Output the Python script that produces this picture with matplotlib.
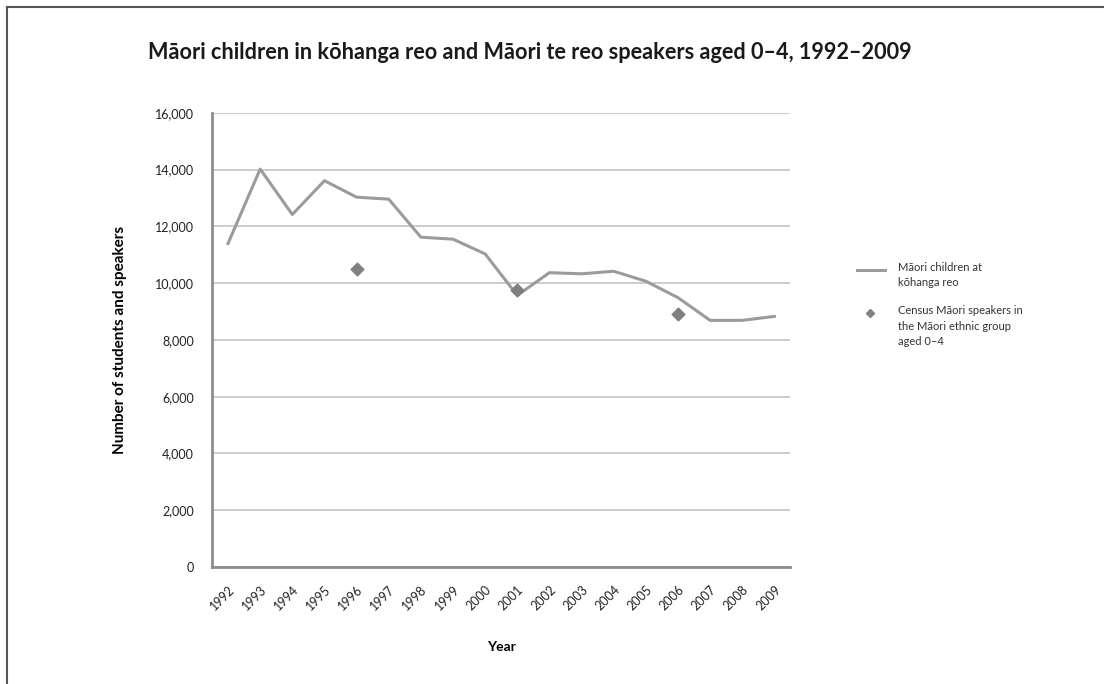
import matplotlib.pyplot as plt
from matplotlib.lines import Line2D

plt.rcParams['font.family'] = ['Lato', 'DejaVu Sans']

years = ['1992', '1993', '1994', '1995', '1996', '1997', '1998', '1999', '2000',
         '2001', '2002', '2003', '2004', '2005', '2006', '2007', '2008', '2009']
kohanga = [11400, 14020, 12420, 13610, 13030, 12960, 11620, 11550, 11030,
           9570, 10370, 10330, 10420, 10070, 9490, 8690, 8690, 8830]
census_years = ['1996', '2001', '2006']
census = [10500, 9770, 8900]
y_ticks = [0, 2000, 4000, 6000, 8000, 10000, 12000, 14000, 16000]
labels = ['Māori children at\nkōhanga reo',
          'Census Māori speakers in\nthe Māori ethnic group\naged 0–4']

fig = plt.figure(figsize=(11.04, 6.84), dpi=100, facecolor='white')
ax = fig.add_axes([0.192, 0.171, 0.524, 0.664])

x = list(range(len(years)))
cx = [years.index(y) for y in census_years]

ax.plot(x, kohanga, color='#9b9b9b', linewidth=2.2, zorder=3)
ax.scatter(cx, census, marker='D', s=42, color='#808080', zorder=4)

ax.set_xlim(-0.5, len(years) - 0.5)
ax.set_ylim(0, 16000)
ax.set_yticks(y_ticks)
ax.set_yticklabels([f'{v:,}' for v in y_ticks], fontsize=9, color='#222222')
ax.set_xticks(x)
ax.set_xticklabels(years, rotation=45, ha='right', rotation_mode='anchor',
                   fontsize=9, color='#222222')
ax.tick_params(axis='both', length=0)
ax.tick_params(axis='y', pad=13)
ax.tick_params(axis='x', pad=12)

ax.grid(axis='y', color='#c4c4c4', linewidth=1.2)
ax.set_axisbelow(True)
for s in ['top', 'right']:
    ax.spines[s].set_visible(False)
for s in ['left', 'bottom']:
    ax.spines[s].set_color('#8c8c8c')
    ax.spines[s].set_linewidth(2)
    ax.spines[s].set_zorder(5)

ax.set_xlabel('Year', fontsize=10, fontweight='bold', labelpad=20)
ax.set_ylabel('Number of students and speakers', fontsize=11,
              fontweight='bold', labelpad=20)

fig.text(0.48, 0.923, 'Māori children in kōhanga reo and Māori te reo speakers aged 0–4, 1992–2009',
         ha='center', va='center', fontsize=15.6, fontweight='bold', color='#1a1a1a')

# legend drawn by hand so the key sits beside the first text line
W, H = 1104, 684
fig.add_artist(Line2D([857 / W, 885 / W], [1 - 270 / H, 1 - 270 / H], color='#9b9b9b',
                      linewidth=2.2, transform=fig.transFigure))
fig.add_artist(Line2D([870 / W], [1 - 313 / H], marker='D', linestyle='none',
                      color='#808080', markersize=4.5, transform=fig.transFigure))
fig.text(898 / W, 1 - 262 / H, labels[0], ha='left', va='top', fontsize=8,
         color='#333333', linespacing=1.5)
fig.text(898 / W, 1 - 305 / H, labels[1], ha='left', va='top', fontsize=8,
         color='#333333', linespacing=1.5)

# frame lines on left and top of figure
fig.add_artist(Line2D([0.006, 0.006], [0, 0.99], color='#555555', linewidth=1.5,
                      transform=fig.transFigure))
fig.add_artist(Line2D([0.006, 1.0], [0.99, 0.99], color='#555555', linewidth=1.5,
                      transform=fig.transFigure))

fig.savefig('out.png', dpi=100, facecolor='white')
